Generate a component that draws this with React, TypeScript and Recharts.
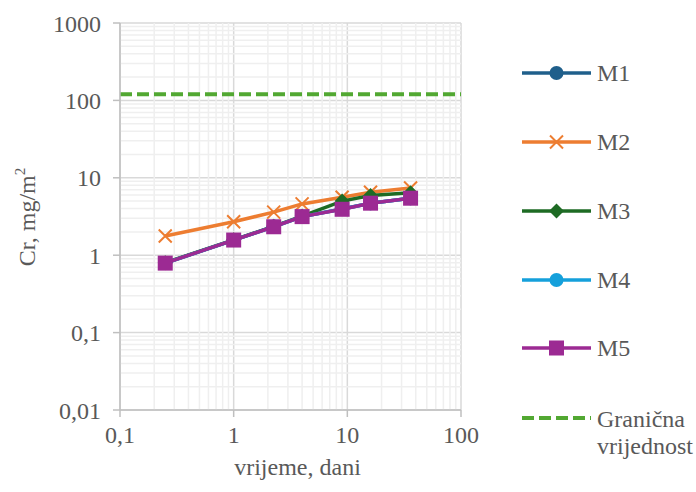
import React from 'react';
import {
  LineChart, Line, XAxis, YAxis, CartesianGrid, ReferenceLine, Label,
} from 'recharts';

const days = [0.25, 1, 2.25, 4, 9, 16, 36];
const m1 = [0.79, 1.57, 2.34, 3.15, 3.95, 4.7, 5.45];
const m2 = [1.77, 2.7, 3.6, 4.6, 5.6, 6.5, 7.4];
const m3 = [0.8, 1.58, 2.36, 3.2, 5.0, 5.9, 6.4];
const m4 = [0.79, 1.57, 2.33, 3.15, 3.95, 4.7, 5.45];
const m5 = [0.79, 1.57, 2.33, 3.15, 3.92, 4.7, 5.45];
const limit = 120;

const xTicks = [0.1, 1, 10, 100];
const yTicks = [0.01, 0.1, 1, 10, 100, 1000];
const multipliers = [2, 3, 4, 5, 6, 7, 8, 9];

const minorX = xTicks.slice(0, -1).flatMap((d) => multipliers.map((k) => +(k * d).toPrecision(3)));
const minorY = yTicks.slice(0, -1).flatMap((d) => multipliers.map((k) => +(k * d).toPrecision(3)));

const rows = days.map((x, i) => ({ x, m1: m1[i], m2: m2[i], m3: m3[i], m4: m4[i], m5: m5[i] }));

const FONT = '"Liberation Serif", "Times New Roman", serif';
const FS = 24;
const TEXT = '#595959';
const AXIS_C = '#bfbfbf';

type Marker = 'circle' | 'cross' | 'diamond' | 'square';

const series: { key: string; name: string; color: string; marker: Marker }[] = [
  { key: 'm1', name: 'M1', color: '#1f5f8b', marker: 'circle' },
  { key: 'm2', name: 'M2', color: '#ed7d31', marker: 'cross' },
  { key: 'm3', name: 'M3', color: '#1e6b24', marker: 'diamond' },
  { key: 'm4', name: 'M4', color: '#15a0db', marker: 'circle' },
  { key: 'm5', name: 'M5', color: '#9c2a93', marker: 'square' },
];
const limitColor = '#52a832';

const fmt = (v: number) => String(v).replace('.', ',');

function MarkerShape({ cx, cy, type, color }: { cx: number; cy: number; type: Marker; color: string }) {
  if (type === 'circle') return <circle cx={cx} cy={cy} r={7} fill={color} />;
  if (type === 'square') return <rect x={cx - 7.5} y={cy - 7.5} width={15} height={15} fill={color} />;
  if (type === 'diamond')
    return <path d={`M${cx},${cy - 7.5}L${cx + 7.5},${cy}L${cx},${cy + 7.5}L${cx - 7.5},${cy}Z`} fill={color} />;
  return (
    <path d={`M${cx - 6.5},${cy - 6.5}L${cx + 6.5},${cy + 6.5}M${cx - 6.5},${cy + 6.5}L${cx + 6.5},${cy - 6.5}`}
      stroke={color} strokeWidth={2} fill="none" />
  );
}

// legend drawn beside the plot, page coordinates
function LegendBox() {
  const rowY = [73, 142, 211, 280, 348];
  return (
    <svg width={696} height={492} style={{ position: 'absolute', left: 0, top: 0, pointerEvents: 'none' }}>
      {series.map((s, i) => (
        <g key={s.key}>
          <line x1={522} x2={591} y1={rowY[i]} y2={rowY[i]} stroke={s.color} strokeWidth={3.5} />
          <MarkerShape cx={556.5} cy={rowY[i]} type={s.marker} color={s.color} />
          <text x={597} y={rowY[i]} dy="0.35em" fontFamily={FONT} fontSize={FS} fill={TEXT}>{s.name}</text>
        </g>
      ))}
      <line x1={522} x2={591} y1={418} y2={418} stroke={limitColor} strokeWidth={4} strokeDasharray="12 5" />
      <text x={597} y={419} dy="0.35em" fontFamily={FONT} fontSize={FS} fill={TEXT}>Granična</text>
      <text x={597} y={446} dy="0.35em" fontFamily={FONT} fontSize={FS} fill={TEXT}>vrijednost</text>
    </svg>
  );
}

function YTitle() {
  const cx = 27;
  const cy = 217;
  return (
    <text x={cx} y={cy} transform={`rotate(-90 ${cx} ${cy})`} textAnchor="middle" dy="0.35em"
      fontFamily={FONT} fontSize={FS} fill={TEXT}>
      Cr, mg/m<tspan fontSize={15} dy={-10}>2</tspan>
    </text>
  );
}

export default function App() {
  return (
    <div style={{ position: 'absolute', left: 0, top: 0, width: 696, height: 492, background: '#fff' }}>
      <LineChart width={696} height={492} data={rows} margin={{ top: 23, right: 235, bottom: 0, left: 0 }}>
        <CartesianGrid stroke="#d9d9d9" strokeWidth={1.5} />
        {minorX.map((v) => (
          <ReferenceLine key={'vx' + v} x={v} stroke="#efefef" strokeWidth={1.5} />
        ))}
        {minorY.map((v) => (
          <ReferenceLine key={'hy' + v} y={v} stroke="#efefef" strokeWidth={1.5} />
        ))}
        <XAxis type="number" dataKey="x" scale="log" domain={[0.1, 100]} ticks={xTicks} allowDataOverflow
          tickFormatter={fmt} stroke={AXIS_C} strokeWidth={1.5} tickSize={7} tickMargin={9}
          tick={{ fill: TEXT, fontFamily: FONT, fontSize: FS }} height={82}>
          <Label value="vrijeme, dani" position="insideBottom" offset={17} dx={7}
            style={{ fill: TEXT, fontFamily: FONT, fontSize: FS }} />
        </XAxis>
        <YAxis type="number" scale="log" domain={[0.01, 1000]} ticks={yTicks} allowDataOverflow
          tickFormatter={fmt} stroke={AXIS_C} strokeWidth={1.5} tickSize={7} tickMargin={12} width={120}
          tick={{ fill: TEXT, fontFamily: FONT, fontSize: FS }}>
          <Label content={<YTitle />} />
        </YAxis>
        <ReferenceLine y={limit} stroke={limitColor} strokeWidth={4} strokeDasharray="12 5" />
        {series.map((s) => (
          <Line key={s.key} type="linear" dataKey={s.key} name={s.name} stroke={s.color} strokeWidth={3.5}
            isAnimationActive={false}
            dot={(p: any) => <MarkerShape key={s.key + p.index} cx={p.cx} cy={p.cy} type={s.marker} color={s.color} />}
            activeDot={false} />
        ))}
      </LineChart>
      <LegendBox />
    </div>
  );
}
